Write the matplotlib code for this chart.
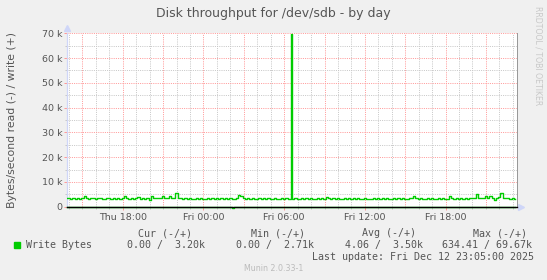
import numpy as np
import matplotlib
matplotlib.use('Agg')
import matplotlib.pyplot as plt
from matplotlib.ticker import MultipleLocator, FixedLocator
from matplotlib.patches import Rectangle

# --------------------------------------------------------------------------
# DATA  (hours relative to Fri 00:00, values in kB/s)
# --------------------------------------------------------------------------
T_START = -10 - 10 / 60          # Thu 13:50
STEP_H = 10 / 60                 # 10 minute samples

write_kb = [
    3.4, 3.5, 3.3, 3.4, 3.3, 3.4,
    3.3, 3.4, 4.2, 3.5, 3.3, 3.4,
    3.6, 3.3, 3.4, 3.5, 3.3, 3.3,
    3.4, 3.5, 3.3, 3.4, 3.3, 3.4,
    3.3, 3.4, 4.4, 3.4, 3.3, 3.4,
    3.3, 3.4, 4.1, 3.3, 3.4, 3.3,
    3.4, 2.8, 4.3, 3.6, 3.4, 3.5,
    3.4, 4.4, 3.5, 3.6, 4.2, 3.6,
    3.5, 5.4, 3.6, 3.4, 3.3, 3.4,
    3.3, 3.4, 3.3, 3.2, 3.4, 3.3,
    3.4, 3.3, 3.3, 3.4, 3.2, 3.4,
    3.3, 3.4, 3.3, 3.5, 3.3, 3.4,
    3.3, 3.4, 3.0, 3.3, 3.4, 4.6,
    4.2, 3.5, 3.3, 3.4, 3.3, 3.4,
    3.3, 3.2, 3.4, 3.3, 3.4, 3.3,
    3.4, 3.3, 3.3, 3.4, 3.3, 3.2,
    3.4, 3.3, 3.4, 3.3, 3.3, 3.3,
    3.4, 3.3, 3.3, 3.4, 3.3, 3.5,
    3.3, 3.4, 3.3, 3.3, 3.4, 3.3,
    3.4, 3.3, 4.0, 3.4, 3.3, 3.4,
    3.3, 3.4, 3.3, 3.2, 3.4, 3.3,
    3.4, 3.3, 3.5, 3.3, 3.4, 3.3,
    3.3, 3.4, 3.3, 3.3, 3.2, 3.4,
    3.3, 3.4, 3.3, 3.5, 3.3, 3.4,
    3.3, 3.2, 3.4, 3.3, 3.4, 3.3,
    3.4, 3.3, 3.3, 3.4, 3.5, 4.2,
    3.4, 3.3, 3.4, 3.3, 3.3, 3.4,
    3.3, 3.4, 3.3, 3.2, 3.4, 3.3,
    3.4, 3.3, 3.3, 4.2, 3.4, 3.3,
    3.4, 3.3, 3.5, 3.3, 3.4, 3.3,
    3.4, 3.5, 3.6, 5.0, 3.5, 3.4,
    3.6, 4.2, 3.5, 4.3, 3.6, 2.7,
    3.5, 4.0, 5.7, 3.6, 3.4, 3.5,
    3.3, 3.4, 3.2,
]

# one short write burst (single 5 min sample) around Fri 06:32
spike_h = 6.53
spike_kb = 69.67

# read is plotted negative; it is zero except one small burst
read_burst_h = 2 + 10 / 60       # Fri 02:10
read_burst_kb = 0.634

x_ticks = [-6, 0, 6, 12, 18]
x_labels = ['Thu 18:00', 'Fri 00:00', 'Fri 06:00', 'Fri 12:00', 'Fri 18:00']
y_ticks = [0, 10, 20, 30, 40, 50, 60, 70]
y_labels = ['0', '10 k', '20 k', '30 k', '40 k', '50 k', '60 k', '70 k']

legend_name = 'Write Bytes'
legend_heads = ['Cur (-/+)', 'Min (-/+)', 'Avg (-/+)', 'Max (-/+)']
legend_vals = ['0.00 /  3.20k', '0.00 /  2.71k', '4.06 /  3.50k', '634.41 / 69.67k']
last_update = 'Last update: Fri Dec 12 23:05:00 2025'

# --------------------------------------------------------------------------
# STYLE
# --------------------------------------------------------------------------
W, H = 547, 280
BACK, CANVAS, FONT = '#F0F0F0', '#FFFFFF', '#555555'
GRID, MGRID, AXIS = '#C8C8C8', '#FF9A9A', '#CFD6F8'
GREEN = '#00CC00'
MONO = 'DejaVu Sans Mono'

def fx(px):
    return px / W

def fy(py):
    return 1 - py / H

fig = plt.figure(figsize=(W / 100, H / 100), dpi=100, facecolor=BACK)
L, R, T, B = 67, 516.7, 33.3, 206.7
ax = fig.add_axes([fx(L), fy(B), fx(R - L), (B - T) / H], facecolor=CANVAS)

t = T_START + STEP_H * np.arange(len(write_kb))
write = np.array(write_kb) * 1000
read = np.zeros(len(t))
read[np.argmin(np.abs(t - read_burst_h))] = -read_burst_kb * 1000

# slot the burst sample in between its neighbours
k = np.searchsorted(t, spike_h)
tw = np.insert(t, k, spike_h)
write = np.insert(write, k, spike_kb * 1000)

ax.set_xlim(-10.15, 23.29)
ax.set_ylim(0, 70000)

# grid: minor grey every 1h / 5k, major red every 3h / 10k
dots = (0, (1, 1.2))
for h in range(-10, 24):
    ax.axvline(h, color=MGRID if h % 3 == 0 else GRID, lw=0.72, ls=dots, zorder=1)
for v in range(5000, 70001, 5000):
    ax.axhline(v, color=MGRID if v % 10000 == 0 else GRID, lw=0.72, ls=dots, zorder=1)

ax.plot(tw, write, color=GREEN, lw=1.0, drawstyle='steps-mid', zorder=3)
ax.plot(t, read, color=GREEN, lw=1.0, drawstyle='steps-mid', zorder=3, clip_on=False)
ax.axhline(0, color='black', lw=1.0, zorder=4, clip_on=False)

ax.xaxis.set_major_locator(FixedLocator(x_ticks))
ax.set_xticklabels(x_labels)
ax.xaxis.set_minor_locator(MultipleLocator(1))
ax.yaxis.set_major_locator(FixedLocator([v * 1000 for v in y_ticks]))
ax.set_yticklabels(y_labels)
ax.yaxis.set_minor_locator(MultipleLocator(5000))
ax.tick_params(which='major', length=2, width=0.72, color=MGRID, labelsize=6.8,
               labelcolor=FONT, pad=1.5)
ax.tick_params(which='minor', length=1.5, width=0.72, color=GRID)
ax.tick_params(axis='x', pad=2.5)

for s in ['top', 'bottom']:
    ax.spines[s].set_visible(False)
ax.spines['left'].set_color(AXIS)
ax.spines['left'].set_linewidth(0.9)
ax.spines['right'].set_color('#999999')
ax.spines['right'].set_linewidth(0.72)

# axis arrows
ax.plot([0], [1.03], marker='^', ms=4, color=AXIS, transform=ax.transAxes, clip_on=False)
ax.plot([1.01], [0], marker='>', ms=4, color=AXIS, transform=ax.transAxes, clip_on=False)

# --------------------------------------------------------------------------
# TEXT
# --------------------------------------------------------------------------
fig.text(fx(273), fy(14), 'Disk throughput for /dev/sdb - by day', ha='center',
         va='center', fontsize=9.0, color=FONT)
fig.text(fx(12), fy(120), 'Bytes/second read (-) / write (+)', rotation=90,
         ha='center', va='center', fontsize=7.8, color=FONT)
fig.text(fx(538), fy(56), 'RRDTOOL / TOBI OETIKER', rotation=270, ha='center',
         va='center', fontsize=5.6, color='#C8C8C8')

fig.patches.append(Rectangle((fx(14), fy(248)), fx(6), 6 / H, color=GREEN,
                             transform=fig.transFigure, figure=fig))
fig.text(fx(26), fy(245.3), legend_name, family=MONO, fontsize=7.2, color=FONT,
         va='center')
for hx, txt in zip([138.3, 250.7, 361.7, 473.3], legend_heads):
    fig.text(fx(hx), fy(233.3), txt, family=MONO, fontsize=7.2, color=FONT, va='center')
for vx, txt in zip([126.7, 235.7, 345, 441.7], legend_vals):
    fig.text(fx(vx), fy(245.3), txt, family=MONO, fontsize=7.2, color=FONT, va='center')
fig.text(fx(311.7), fy(257.3), last_update, family=MONO, fontsize=7.2, color=FONT,
         va='center')
fig.text(fx(273.5), fy(268.3), 'Munin 2.0.33-1', ha='center', va='center',
         fontsize=5.7, color='#BBBBBB')

fig.savefig('out.png', dpi=100, facecolor=BACK)
